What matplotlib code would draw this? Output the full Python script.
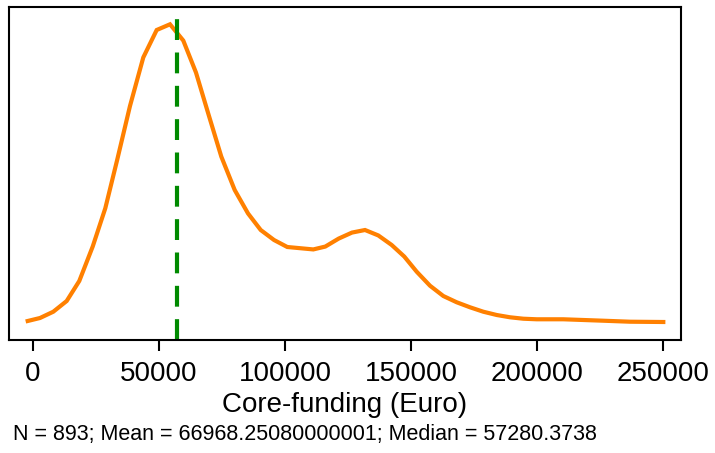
import matplotlib
matplotlib.use("Agg")
import matplotlib.pyplot as plt

plt.rcParams['font.family'] = ['Liberation Sans', 'DejaVu Sans']

# kernel density estimate of core-funding (density in 1e-6 per Euro)
funding = [-2100, 2780, 8060, 13370, 18370, 23690, 28690, 33450, 38490, 43770,
           49090, 54370, 59640, 64680, 69720, 74720, 80040, 85320, 90360, 95640,
           100910, 111230, 115990, 121310, 126590, 131750, 137020, 142340, 147340, 152260,
           157540, 162820, 168140, 173410, 178690, 184010, 189290, 194560, 199880, 210440,
           218370, 226310, 236910, 250120]
density = [0.665, 0.77, 0.99, 1.365, 2.065, 3.27, 4.61, 6.32, 8.19, 9.89,
           10.85, 11.05, 10.48, 9.36, 7.875, 6.42, 5.25, 4.43, 3.85, 3.5,
           3.255, 3.17, 3.27, 3.55, 3.76, 3.85, 3.66, 3.325, 2.92, 2.39,
           1.90, 1.54, 1.32, 1.145, 0.99, 0.875, 0.795, 0.745, 0.725, 0.725,
           0.70, 0.675, 0.64, 0.63]
density = [d * 1e-6 for d in density]

n_obs = 893
mean_val = 66968.25080000001
median_val = 57280.3738
xticks = [0, 50000, 100000, 150000, 200000, 250000]

fig = plt.figure(figsize=(7.15, 4.53), dpi=100)
ax = fig.add_axes([9 / 715, 1 - 340 / 453, 672 / 715, 333 / 453])

ax.plot(funding, density, color='#ff8000', lw=3, solid_joinstyle='miter')
ax.axvline(median_val, color='#008a00', lw=3, dashes=(5, 3))

ax.set_xlim(-9520, 257140)
ax.set_ylim(0, 11.655e-6)
ax.set_yticks([])
ax.set_xticks(xticks)
ax.set_xticklabels([str(t) for t in xticks])
ax.tick_params(axis='x', length=8, width=1.5, pad=7, labelsize=20)
for s in ax.spines.values():
    s.set_linewidth(1.5)
ax.set_xlabel('Core-funding (Euro)', fontsize=20, labelpad=3.5)

# summary line under the chart
fig.text(13 / 715, 1 - 440 / 453,
         f'N = {n_obs}; Mean = {mean_val}; Median = {median_val}',
         fontsize=15.5, va='baseline', ha='left')

fig.savefig('out.png', dpi=100)
